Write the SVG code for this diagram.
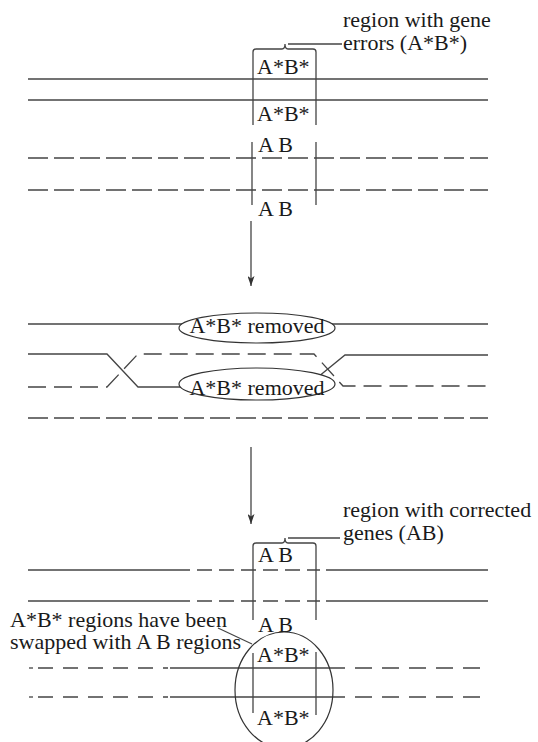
<svg xmlns="http://www.w3.org/2000/svg" width="538" height="742" viewBox="0 0 538 742">
<style>
.ln{stroke:#444;stroke-width:1.3;fill:none}
.ds{stroke-dasharray:20 6}
.ds2{stroke-dasharray:18 8}
.ds3{stroke-dasharray:15 10}
.el{stroke:#333;stroke-width:1.2;fill:#fff}
.tx{font-family:"Liberation Serif","Times New Roman",serif;font-size:22px;fill:#1a1a1a}
</style>
<defs>
<marker id="arr" viewBox="0 0 10 7" markerWidth="10" markerHeight="7" refX="10" refY="3.5" orient="auto" markerUnits="userSpaceOnUse">
<path d="M0,0 L10,3.5 L0,7 L2.5,3.5 z" fill="#333"/>
</marker>
</defs>
<rect width="538" height="742" fill="#fff"/>

<g id="stage1">
<line class="ln" x1="28" y1="79" x2="488" y2="79"/>
<line class="ln" x1="28" y1="100" x2="488" y2="100"/>
<line class="ln ds" x1="28" y1="158" x2="488" y2="158"/>
<line class="ln ds" x1="28" y1="190" x2="488" y2="190"/>
<path class="ln" d="M253,125 L253,52 Q253,49 256,49 L282,49 Q285,49 285,44 Q285,49 288,49 L313,49 Q316,49 316,52 L316,125"/>
<line class="ln" x1="252" y1="142" x2="252" y2="205"/>
<line class="ln" x1="316" y1="142" x2="316" y2="205"/>
<text class="tx" x="257" y="74">A*B*</text>
<text class="tx" x="257" y="121">A*B*</text>
<text class="tx" x="258" y="152">A B</text>
<text class="tx" x="258" y="216">A B</text>
</g>

<g id="label-errors">
<line class="ln" x1="288" y1="44" x2="342" y2="44"/>
<text class="tx" x="343" y="27">region with gene</text>
<text class="tx" x="343" y="50">errors (A*B*)</text>
</g>

<g id="stage2">
<line class="ln" x1="28" y1="324" x2="488" y2="324"/>
<path class="ln" d="M28,354 L107,354 L138,387 L200,387"/>
<path class="ln" d="M318,377 L345,355 L488,355"/>
<path class="ln ds2" d="M28,387 L107,387 L138,354 L314,354 L343,386 L488,386"/>
<line class="ln ds" x1="28" y1="418" x2="488" y2="418"/>
<g id="removed1">
<ellipse class="el" cx="257" cy="328" rx="78" ry="15"/>
<text class="tx" x="257" y="333" text-anchor="middle">A*B* removed</text>
</g>
<g id="removed2">
<ellipse class="el" cx="257" cy="384" rx="78" ry="16"/>
<text class="tx" x="257" y="395" text-anchor="middle">A*B* removed</text>
</g>
</g>

<g id="stage3">
<line class="ln" x1="28" y1="570" x2="190" y2="570"/>
<line class="ln" x1="197" y1="570" x2="320" y2="570" stroke-dasharray="15 7"/>
<line class="ln" x1="326" y1="570" x2="488" y2="570"/>
<line class="ln" x1="28" y1="601" x2="190" y2="601"/>
<line class="ln" x1="197" y1="601" x2="320" y2="601" stroke-dasharray="15 7"/>
<line class="ln" x1="326" y1="601" x2="488" y2="601"/>
<line class="ln" x1="29" y1="668" x2="33" y2="668"/>
<line class="ln ds3" x1="38" y1="668" x2="168" y2="668"/>
<line class="ln" x1="170" y1="668" x2="345" y2="668"/>
<line class="ln" x1="355" y1="668" x2="488" y2="668" stroke-dasharray="17 10"/>
<line class="ln" x1="29" y1="697" x2="33" y2="697"/>
<line class="ln ds3" x1="38" y1="697" x2="168" y2="697"/>
<line class="ln" x1="170" y1="697" x2="345" y2="697"/>
<line class="ln" x1="355" y1="697" x2="488" y2="697" stroke-dasharray="17 10"/>
<path class="ln" d="M253,620 L253,546 Q253,543 256,543 L282,543 Q285,543 285,538 Q285,543 288,543 L313,543 Q316,543 316,546 L316,620"/>
<line class="ln" x1="253" y1="653" x2="253" y2="713"/>
<line class="ln" x1="316" y1="652" x2="316" y2="715"/>
<text class="tx" x="258" y="562">A B</text>
<text class="tx" x="258" y="632">A B</text>
<text class="tx" x="257" y="662">A*B*</text>
<text class="tx" x="257" y="725">A*B*</text>
<ellipse cx="284" cy="690" rx="49" ry="58" fill="none" stroke="#333" stroke-width="1.2"/>
</g>

<g id="label-corrected">
<line class="ln" x1="288" y1="538" x2="340" y2="538"/>
<text class="tx" x="343" y="517">region with corrected</text>
<text class="tx" x="343" y="540">genes (AB)</text>
</g>

<g id="label-swapped">
<line class="ln" x1="218" y1="628" x2="252" y2="644"/>
<text class="tx" x="10" y="627">A*B* regions have been</text>
<text class="tx" x="10" y="649">swapped with A B regions</text>
</g>

<g id="connectors">
<line class="ln" x1="251" y1="221" x2="251" y2="286" marker-end="url(#arr)"/>
<line class="ln" x1="251" y1="447" x2="251" y2="524" marker-end="url(#arr)"/>
</g>
</svg>
